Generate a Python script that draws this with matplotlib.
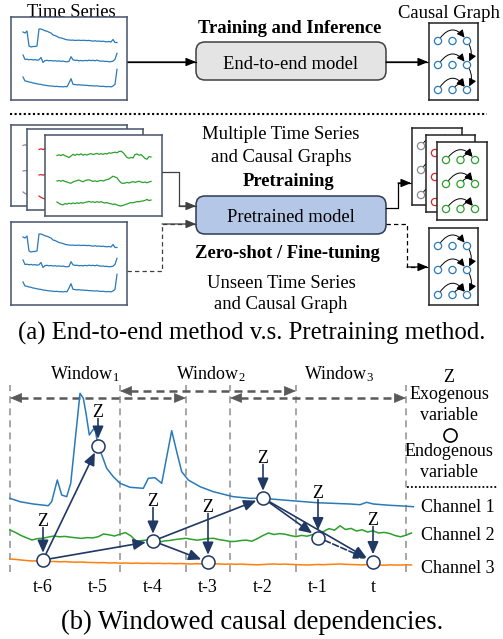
import numpy as np
import matplotlib.pyplot as plt
from matplotlib.patches import FancyBboxPatch, FancyArrowPatch, Circle

plt.rcParams['font.family'] = ['Liberation Serif', 'DejaVu Serif']
plt.rcParams['mathtext.fontset'] = 'custom'
plt.rcParams['mathtext.rm'] = 'Liberation Serif'
plt.rcParams['mathtext.it'] = 'Liberation Serif:italic'

W, H = 503, 639

# ---------------- data ----------------
# mini time series drawn inside the boxes (box pixels, one sample every 2 px)
ts_x = np.arange(12, 108, 2)
ts_blue_1 = [15, 16, 14, 29, 30, 29.5, 29.5, 29, 12, 12,
             12.8, 13.8, 14.2, 15.2, 16, 18, 18.5, 19.5, 20.5, 21,
             21.5, 22.3, 22.8, 23, 23.2, 23.1, 23.4, 23.3, 23.2, 23.5,
             23.3, 23.4, 23.6, 23.4, 23.8, 24.2, 23.7, 24.3, 24.0, 24.4,
             24.2, 24.6, 24.8, 24.5, 25, 22.5, 25.5, 25.5]
ts_blue_2 = [38, 42.5, 42.2, 42.8, 42.4, 43, 42.6, 43.2, 42.8, 40.5,
             45.5, 43.6, 43.3, 43.8, 43.5, 44, 43.7, 44.2, 43.9, 44.3,
             44.1, 44.6, 44.8, 44.4, 39.7, 42.8, 43.4, 43.2, 43.8, 43.5,
             43.9, 43.4, 43.7, 43.2, 43.6, 43.3, 43.8, 43.1, 43.9, 44.2,
             44.0, 44.5, 44.3, 44.8, 44.6, 44.2, 42.3, 36.3]
ts_blue_3 = [60, 64, 64.3, 65, 65.3, 66, 66.3, 66.8, 67.2, 67.4,
             68, 68.2, 68.6, 68.8, 69, 69.2, 69.5, 69.3, 69.7, 69.6,
             69.9, 69.5, 69.8, 66, 61.7, 67.3, 67.6, 67.9, 67.7, 68.1,
             68, 68.4, 68.3, 68.7, 68.6, 68.9, 69, 68.8, 69.2, 69.4,
             69.3, 69.6, 69.7, 69.5, 69.9, 69, 67.3, 52.3]
ts_green_1 = [20.5, 19.8, 20.6, 19.5, 20.8, 21.5, 22.6, 21.0, 19.3, 20.4,
              19.2, 19.9, 18.8, 20.2, 19.4, 20.0, 19.2, 18.6, 19.5, 18.9,
              18.4, 19.3, 18.7, 19.4, 18.5, 19.0, 17.8, 18.3, 17.6, 17.2,
              17.8, 16.5, 16.2, 17.5, 20.0, 22.5, 23.2, 22.4, 23.0, 19.5,
              19.0, 20.2, 19.6, 21.4, 23.5, 24.2, 21.6, 22.0]
ts_green_2 = [46.0, 45.6, 46.2, 45.4, 46.5, 47.0, 47.8, 48.2, 47.0, 46.2,
              45.6, 45.0, 46.0, 46.8, 45.6, 45.0, 44.8, 45.6, 46.4, 45.8,
              46.6, 45.9, 45.4, 46.0, 45.2, 44.6, 44.0, 42.6, 41.2, 42.0,
              42.8, 45.6, 47.8, 48.4, 48.1, 47.4, 48.0, 47.2, 46.6, 47.4,
              46.8, 46.2, 47.0, 47.6, 47.0, 47.8, 47.0, 46.4]
ts_green_3 = [67.0, 68.4, 69.4, 69.8, 68.6, 69.2, 68.2, 68.8, 68.0, 68.6,
              67.8, 68.4, 67.6, 68.2, 67.4, 67.0, 66.4, 67.2, 66.8, 67.5,
              66.6, 67.3, 66.7, 67.4, 68.0, 67.6, 68.4, 68.8, 69.4, 69.0,
              70.0, 70.6, 71.0, 70.4, 69.6, 69.0, 68.2, 67.6, 67.8, 67.2,
              66.6, 66.8, 66.2, 66.0, 65.4, 64.4, 65.6, 65.0]

# small causal graphs: ((row, col) -> (row, col), bend)
blue_graph_edges = [((0, 0), (0, 2), -0.75), ((1, 0), (1, 2), -0.75), ((0, 2), (1, 2), -0.35),
                    ((2, 0), (2, 2), -0.8), ((2, 1), (2, 2), -0.8), ((1, 2), (2, 2), -0.35)]
green_graph_edges = [((0, 0), (0, 2), -0.7), ((0, 1), (0, 2), -0.8), ((1, 0), (1, 2), -0.75),
                     ((1, 1), (1, 2), -0.8), ((2, 0), (2, 2), -0.7), ((2, 1), (2, 2), -0.9)]

# windowed example (x in time steps, y in signal units)
steps = ['t-6', 't-5', 't-4', 't-3', 't-2', 't-1', 't']
window_names = [r'Window$_1$', r'Window$_2$', r'Window$_3$']
window_starts = [-0.6, 1.4, 3.4]
window_len = 3.2

ch1_t = [-0.6, -0.418, -0.176, 0.096, 0.158, 0.26, 0.34, 0.431, 0.504, 0.673,
         0.733, 0.782, 0.842, 0.904, 0.945, 0.976, 1.036, 1.158, 1.278, 1.4,
         1.582, 1.824, 1.915, 2.036, 2.158, 2.34, 2.431, 2.522, 2.642, 2.855,
         3.096, 3.46, 3.764, 4.0, 4.364, 4.976, 5.582, 5.764, 5.885, 6.005,
         6.309, 6.551, 6.733]
ch1_v = [7.37, 7.03, 6.8, 6.63, 7.03, 9.2, 7.7, 7.53, 8.87, 17.87,
         17.37, 15.87, 13.7, 14.2, 14.37, 13.37, 12.2, 10.37, 9.53, 8.87,
         8.47, 8.37, 9.37, 9.43, 8.87, 14.13, 12.03, 10.03, 9.2, 8.53,
         8.03, 7.53, 7.37, 7.37, 7.2, 6.93, 6.8, 6.73, 6.97, 6.8,
         6.67, 6.6, 6.53]
ch_grid = np.linspace(-0.6, 6.7, 74)
ch2_v = [4.2, 3.95, 3.65, 3.42, 3.2, 3.34, 3.37, 3.5, 3.6, 3.52,
         3.56, 3.48, 3.42, 3.36, 3.44, 3.41, 3.52, 3.8, 3.72, 3.6,
         3.78, 3.94, 3.6, 3.05, 3.15, 3.2, 3.0, 2.97, 3.1, 3.15,
         3.24, 3.31, 3.37, 3.27, 3.18, 3.26, 3.34, 3.37, 3.24, 3.16,
         3.05, 3.06, 3.15, 3.18, 3.08, 3.35, 3.65, 3.9, 3.75, 3.84,
         3.78, 3.64, 3.54, 3.66, 3.58, 3.74, 3.85, 4.05, 4.34, 4.18,
         4.62, 4.25, 4.36, 4.1, 4.22, 4.0, 4.12, 3.9, 3.96, 3.86,
         3.65, 3.52, 3.68, 3.9]
ch3_v = [1.30, 1.26, 1.20, 1.15, 1.10, 1.12, 1.08, 1.06, 1.05, 1.02,
         1.04, 1.00, 0.98, 1.00, 0.96, 0.95, 0.93, 0.94, 0.90, 0.92,
         0.88, 0.90, 0.87, 0.89, 0.86, 0.88, 0.85, 0.87, 0.84, 0.86,
         0.83, 0.85, 0.82, 0.80, 0.83, 0.81, 0.79, 0.82, 0.80, 0.78,
         0.80, 0.77, 0.79, 0.76, 0.74, 0.72, 0.75, 0.78, 0.80, 0.77,
         0.79, 0.76, 0.74, 0.72, 0.70, 0.72, 0.75, 0.73, 0.76, 0.78,
         0.80, 0.77, 0.75, 0.73, 0.71, 0.74, 0.72, 0.70, 0.68, 0.71,
         0.70, 0.69, 0.72, 0.70]

node_value = [1.2, 12.6, 3.1, 1.0, 7.4, 3.45, 1.05]
edges_solid = [(0, 1), (0, 2), (2, 3), (2, 4), (4, 5), (4, 6)]
edges_dashed = [(5, 6)]

# ---------------- style ----------------
BLUE, GREEN, ORANGE, RED, GRAY = '#2a7ab9', '#2ca02c', '#ff7f0e', '#d62728', '#8c8c8c'
NAVY = '#203864'
FRAME = '#44546a'
FS = 13.4

fig = plt.figure(figsize=(W / 100, H / 100), dpi=100)
ax = fig.add_axes([0, 0, 1, 1], zorder=0)
ax.set_xlim(0, W)
ax.set_ylim(H, 0)
ax.axis('off')


def px_axes(x, y, w, h, z):
    a = fig.add_axes([x / W, 1 - (y + h) / H, w / W, h / H], zorder=z)
    a.set_xlim(0, w)
    a.set_ylim(h, 0)
    a.set_xticks([])
    a.set_yticks([])
    a.set_facecolor('white')
    for s in a.spines.values():
        s.set_color(FRAME)
        s.set_linewidth(1.1)
    return a


def ts_box(x, y, w, h, series, color, z):
    a = px_axes(x, y, w, h, z)
    for s in series:
        a.plot(ts_x, s, color=color, lw=0.9)


def graph_box(x, y, w, h, color, edges, z):
    a = px_axes(x, y, w, h, z)
    a.spines[:].set_color('#222222')
    cols, rows = [9, 23.5, 38], [18, 42, 67]
    for (r0, c0), (r1, c1), rad in edges:
        a.add_patch(FancyArrowPatch((cols[c0], rows[r0]), (cols[c1], rows[r1]),
                                    connectionstyle=f'arc3,rad={rad}',
                                    arrowstyle='-|>,head_length=0.5,head_width=0.25',
                                    mutation_scale=9, lw=0.7, color='black',
                                    shrinkA=3, shrinkB=3))
    for r in rows:
        for c in cols:
            a.add_patch(Circle((c, r), 3.6, fc='white', ec=color, lw=0.9))


def link(pts, dashed=False, color='black'):
    xs, ys = zip(*pts)
    ax.plot(xs, ys, color=color, lw=0.9, ls=(0, (3.5, 2.5)) if dashed else '-')
    ax.annotate('', xy=pts[-1], xytext=pts[-2],
                arrowprops=dict(arrowstyle='-|>,head_length=0.6,head_width=0.25',
                                mutation_scale=10, color=color, lw=0.9,
                                shrinkA=0, shrinkB=0))


def label(x, y, s, size=FS, bold=False):
    ax.text(x, y, s, ha='center', va='baseline', fontsize=size,
            fontweight='bold' if bold else 'normal')


# ---------------- (a) ----------------
ts_box(11, 17, 116, 83, [ts_blue_1, ts_blue_2, ts_blue_3], BLUE, 3)
ts_box(11, 222, 116, 83, [ts_blue_1, ts_blue_2, ts_blue_3], BLUE, 3)
ts_box(11, 125, 116, 81, [ts_green_1, ts_green_2, ts_green_3], GRAY, 3)
ts_box(27, 129, 116, 81, [ts_green_1, ts_green_2, ts_green_3], RED, 4)
ts_box(45, 135, 117, 81, [ts_green_1, ts_green_2, ts_green_3], GREEN, 5)

graph_box(429, 23, 49, 77, BLUE, blue_graph_edges, 3)
graph_box(429, 228, 49, 77, BLUE, blue_graph_edges, 3)
graph_box(412, 128, 50, 77, GRAY, green_graph_edges, 3)
graph_box(426, 135, 49, 77, RED, green_graph_edges, 4)
graph_box(437, 142, 50, 78, GREEN, green_graph_edges, 5)

ax.add_patch(FancyBboxPatch((196, 42), 190, 38, boxstyle='round,pad=0,rounding_size=9',
                            fc='#e4e4e4', ec='#404040', lw=1.1))
ax.add_patch(FancyBboxPatch((196, 196), 190, 38, boxstyle='round,pad=0,rounding_size=9',
                            fc='#b4c7e7', ec='#2f3b52', lw=1.1))

link([(127, 62), (196, 62)])
link([(386, 62), (428, 62)])
link([(162, 172), (179, 172), (179, 206), (196, 206)], color='#404040')
link([(127, 271), (162, 271), (162, 224), (196, 224)], dashed=True, color='#404040')
link([(386, 208), (398, 208), (398, 183), (411, 183)])
link([(386, 224), (407, 224), (407, 267), (428, 267)], dashed=True)

ax.plot([10, 487], [114, 114], color='black', lw=1.5, ls=(0, (1, 1.2)))

label(71, 17, 'Time Series')
label(290, 33, 'Training and Inference', bold=True)
label(291, 69, 'End-to-end model')
label(449, 18, 'Causal Graph')
label(281, 139, 'Multiple Time Series')
label(281, 161.5, 'and Causal Graphs')
label(289, 186, 'Pretraining', bold=True)
label(291, 221.5, 'Pretrained model')
label(287, 258, 'Zero-shot / Fine-tuning', bold=True)
label(281, 288, 'Unseen Time Series')
label(281, 309, 'and Causal Graph')
label(252, 340, '(a) End-to-end method v.s. Pretraining method.', size=17.8)

# ---------------- (b) ----------------
PX_T0, PX_STEP = 43, 55      # pixel x of t-6 and spacing of steps
PY_V0, PX_PER_V = 572, 10    # pixel y of value 0 and pixels per unit
axb = fig.add_axes([0, 0, 1, 1], zorder=2)
axb.set_xlim(-PX_T0 / PX_STEP, (W - PX_T0) / PX_STEP)
axb.set_ylim((PY_V0 - H) / PX_PER_V, PY_V0 / PX_PER_V)
axb.axis('off')

bounds = sorted(set(window_starts) | {s + window_len for s in window_starts})
for b in bounds:
    axb.plot([b, b], [0, 18.7], color='#a6a6a6', lw=1.4, ls=(0, (3.6, 2.6)), zorder=1)

arrow_v = [17.4, 18.1, 17.4]
head = 0.19
for s, yv in zip(window_starts, arrow_v):
    e = s + window_len
    axb.plot([s + head, e - head], [yv, yv], color='#595959', lw=1.8,
             ls=(0, (3.2, 2.0)), zorder=2)
    for tip, d in ((s, 1), (e, -1)):
        axb.annotate('', xy=(tip, yv), xytext=(tip + d * head, yv),
                     arrowprops=dict(arrowstyle='-|>,head_length=0.55,head_width=0.23',
                                     mutation_scale=14, color='#595959', lw=0.5,
                                     shrinkA=0, shrinkB=0), zorder=2)

axb.plot(ch1_t, ch1_v, color=BLUE, lw=1.1, zorder=3)
axb.plot(ch_grid, ch2_v, color=GREEN, lw=1.1, zorder=3)
axb.plot(ch_grid, ch3_v, color=ORANGE, lw=1.1, zorder=3)

astyle = '-|>,head_length=0.5,head_width=0.22'
for (a_, b_), ls in [(e, '-') for e in edges_solid] + [(e, '--') for e in edges_dashed]:
    axb.add_patch(FancyArrowPatch((a_, node_value[a_]), (b_, node_value[b_]),
                                  arrowstyle=astyle, mutation_scale=15, lw=1.2,
                                  color=NAVY, ls=ls, shrinkA=5.2, shrinkB=5.2, zorder=4))

z_base_off = [34, 29, 35, 50, 35, 39.5, 36.5]   # node to Z baseline, pixels
for i, (v, off) in enumerate(zip(node_value, z_base_off)):
    axb.text(i, v + off / PX_PER_V, 'Z', ha='center', va='baseline', fontsize=13, zorder=5)
    axb.add_patch(FancyArrowPatch((i, v + (off - 1.5) / PX_PER_V), (i, v),
                                  arrowstyle=astyle, mutation_scale=15, lw=1.2,
                                  color=NAVY, shrinkA=0, shrinkB=5.2, zorder=4))
axb.plot(range(len(steps)), node_value, 'o', ms=9.4, mfc='white', mec=NAVY,
         mew=1.1, ls='none', zorder=5)

for i, s in enumerate(steps):
    axb.text(i, -2.0, s, ha='center', va='baseline', fontsize=13)

for x, name in zip([85, 211, 339], window_names):
    label(x, 379, name, size=13)

label(449, 382, 'Z', size=13)
label(449, 399, 'Exogenous', size=13)
label(449, 420, 'variable', size=13)
ax.plot(450, 435, 'o', ms=9.4, mfc='white', mec='black', mew=1.2)
label(449, 456, 'Endogenous', size=13)
label(449, 477, 'variable', size=13)
ax.plot([407, 497], [487, 487], color='black', lw=1.3, ls=(0, (1, 1.2)))
label(458, 512, 'Channel 1', size=13)
label(458, 540, 'Channel 2', size=13)
label(458, 573, 'Channel 3', size=13)

label(252, 629, '(b) Windowed causal dependencies.', size=19.2)

fig.savefig('out.png', dpi=100)
